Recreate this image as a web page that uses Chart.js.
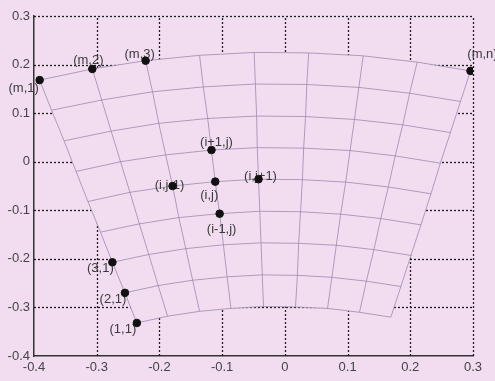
<!DOCTYPE html>
<html>
<head>
<meta charset="utf-8">
<script src="https://cdn.jsdelivr.net/npm/chart.js@4.4.1/dist/chart.umd.min.js"></script>
<style>
  html, body { margin: 0; padding: 0; background: #f2ddf0; }
  #wrap { width: 495px; height: 381px; }
</style>
</head>
<body>
<div id="wrap"><canvas id="meshChart"></canvas></div>
<script>
// axis ticks
const xTicks = [-0.4, -0.3, -0.2, -0.1, 0, 0.1, 0.2, 0.3];
const yTicks = [-0.4, -0.3, -0.2, -0.1, 0, 0.1, 0.2, 0.3];

// mesh nodes, row i = 1..9 (bottom to top), column j = 1..9 (left to right)
const gridX = [
  [-0.236, -0.187, -0.136, -0.086, -0.034, 0.017, 0.068, 0.119, 0.169],
  [-0.255, -0.202, -0.147, -0.092, -0.036, 0.020, 0.075, 0.130, 0.185],
  [-0.275, -0.217, -0.158, -0.098, -0.038, 0.022, 0.082, 0.142, 0.201],
  [-0.294, -0.232, -0.169, -0.104, -0.040, 0.025, 0.089, 0.153, 0.217],
  [-0.314, -0.247, -0.179, -0.111, -0.042, 0.028, 0.097, 0.165, 0.233],
  [-0.333, -0.262, -0.190, -0.117, -0.044, 0.030, 0.104, 0.176, 0.248],
  [-0.352, -0.277, -0.201, -0.123, -0.045, 0.033, 0.111, 0.188, 0.264],
  [-0.372, -0.292, -0.211, -0.130, -0.047, 0.035, 0.118, 0.199, 0.280],
  [-0.391, -0.307, -0.222, -0.136, -0.049, 0.038, 0.125, 0.211, 0.296]
];
const gridY = [
  [-0.332, -0.318, -0.308, -0.302, -0.298, -0.299, -0.302, -0.310, -0.320],
  [-0.270, -0.255, -0.244, -0.237, -0.233, -0.234, -0.238, -0.246, -0.257],
  [-0.207, -0.191, -0.179, -0.171, -0.167, -0.168, -0.172, -0.181, -0.193],
  [-0.145, -0.128, -0.115, -0.107, -0.102, -0.103, -0.108, -0.117, -0.130],
  [-0.082, -0.063, -0.050, -0.041, -0.036, -0.037, -0.042, -0.052, -0.066],
  [-0.020, 0.000, 0.014, 0.024, 0.029, 0.028, 0.023, 0.012, -0.003],
  [0.043, 0.063, 0.079, 0.089, 0.094, 0.093, 0.087, 0.076, 0.060],
  [0.106, 0.127, 0.144, 0.154, 0.160, 0.159, 0.153, 0.141, 0.124],
  [0.168, 0.191, 0.208, 0.219, 0.225, 0.224, 0.218, 0.205, 0.187]
];

// marked nodes: label, row, column (1-based)
const markNames = ['(m,1)', '(m,2)', '(m,3)', '(m,n)', '(i+1,j)', '(i,j-1)', '(i,j)', '(i,j+1)', '(i-1,j)', '(3,1)', '(2,1)', '(1,1)'];
const markRows  = [9, 9, 9, 9, 6, 5, 5, 5, 4, 3, 2, 1];
const markCols  = [1, 2, 3, 9, 4, 3, 4, 5, 4, 1, 1, 1];

// label offsets from the dot, pixels (style only)
const labelShift = [[-16, 8], [-4, -9], [-6, -6], [12, -16], [5, -8], [-3, -1], [-6, 14], [2, -3], [2, 16], [-12, 6], [-12, 7], [-14, 6]];

const bg = '#f2ddf0';
const meshColor = 'rgba(150,132,172,0.75)';

const datasets = [];
// rows of the mesh
for (let i = 0; i < gridX.length; i++) {
  datasets.push({
    data: gridX[i].map((x, j) => ({ x: x, y: gridY[i][j] })),
    showLine: true, borderColor: meshColor, borderWidth: 1, pointRadius: 0, order: 2
  });
}
// columns of the mesh
for (let j = 0; j < gridX[0].length; j++) {
  datasets.push({
    data: gridX.map((row, i) => ({ x: row[j], y: gridY[i][j] })),
    showLine: true, borderColor: meshColor, borderWidth: 1, pointRadius: 0, order: 2
  });
}
// the marked nodes
const markIndex = datasets.length;
datasets.push({
  data: markRows.map((r, k) => ({ x: gridX[r - 1][markCols[k] - 1], y: gridY[r - 1][markCols[k] - 1] })),
  showLine: false, pointRadius: 3.8, pointBackgroundColor: '#111', pointBorderColor: '#111', order: 0
});

const meshBackground = {
  id: 'meshBackground',
  beforeDatasetsDraw(chart) {
    const xs = chart.scales.x, ys = chart.scales.y, ctx = chart.ctx;
    const area = chart.chartArea;

    // dotted matlab style grid
    ctx.save();
    ctx.strokeStyle = '#1c1c1c';
    ctx.lineWidth = 1.3;
    ctx.setLineDash([2, 2]);
    xTicks.slice(1).forEach(v => {
      const px = Math.round(xs.getPixelForValue(v)) + 0.5;
      ctx.beginPath(); ctx.moveTo(px, area.bottom); ctx.lineTo(px, area.top); ctx.stroke();
    });
    yTicks.slice(1).forEach(v => {
      const py = Math.round(ys.getPixelForValue(v)) + 0.5;
      ctx.beginPath(); ctx.moveTo(area.left, py); ctx.lineTo(area.right, py); ctx.stroke();
    });
    ctx.restore();

    // paper colour inside the mesh outline, so the grid is hidden there
    const n = gridX.length, m = gridX[0].length;
    const pts = [];
    for (let j = 0; j < m; j++) pts.push([gridX[0][j], gridY[0][j]]);
    for (let i = 1; i < n; i++) pts.push([gridX[i][m - 1], gridY[i][m - 1]]);
    for (let j = m - 2; j >= 0; j--) pts.push([gridX[n - 1][j], gridY[n - 1][j]]);
    for (let i = n - 2; i > 0; i--) pts.push([gridX[i][0], gridY[i][0]]);
    ctx.save();
    ctx.beginPath();
    pts.forEach((p, k) => {
      const px = xs.getPixelForValue(p[0]), py = ys.getPixelForValue(p[1]);
      if (k === 0) ctx.moveTo(px, py); else ctx.lineTo(px, py);
    });
    ctx.closePath();
    ctx.fillStyle = bg;
    ctx.fill();
    ctx.restore();
  },
  // labels go under the dots
  beforeDatasetDraw(chart, args) {
    if (args.index !== markIndex) return;
    const xs = chart.scales.x, ys = chart.scales.y, ctx = chart.ctx;
    ctx.save();
    ctx.font = '13px "Liberation Sans", Arial, sans-serif';
    ctx.fillStyle = '#3a3a3a';
    ctx.textAlign = 'center';
    ctx.textBaseline = 'middle';
    markNames.forEach((name, k) => {
      const r = markRows[k] - 1, c = markCols[k] - 1;
      const px = xs.getPixelForValue(gridX[r][c]) + labelShift[k][0];
      const py = ys.getPixelForValue(gridY[r][c]) + labelShift[k][1];
      ctx.fillText(name, px, py);
    });
    ctx.restore();
  }
};

const fmt = v => String(Number(v.toFixed(1)));

const ctx1 = document.getElementById('meshChart');
const meshChart = new Chart(ctx1, {
  type: 'scatter',
  data: { datasets: datasets },
  options: {
    responsive: true,
    maintainAspectRatio: false,
    animation: false,
    layout: { padding: { left: 0, right: 22, top: 16, bottom: 0 } },
    plugins: {
      legend: { display: false },
      tooltip: { enabled: false }
    },
    scales: {
      x: {
        type: 'linear',
        min: xTicks[0], max: xTicks[xTicks.length - 1],
        afterBuildTicks: s => { s.ticks = xTicks.map(v => ({ value: v })); },
        afterFit: s => { s.height = 25; },
        ticks: { color: '#444', padding: 4, font: { family: '"Liberation Sans", Arial', size: 13 }, callback: fmt, maxRotation: 0 },
        grid: { display: false, drawTicks: false },
        border: { display: true, color: '#333', width: 1.5 }
      },
      y: {
        type: 'linear',
        min: yTicks[0], max: yTicks[yTicks.length - 1],
        afterBuildTicks: s => { s.ticks = yTicks.map(v => ({ value: v })); },
        afterFit: s => { s.width = 34; },
        ticks: { color: '#444', padding: 4, font: { family: '"Liberation Sans", Arial', size: 13 }, callback: fmt },
        grid: { display: false, drawTicks: false },
        border: { display: true, color: '#333', width: 1.5 }
      }
    }
  },
  plugins: [meshBackground]
});
</script>
</body>
</html>
